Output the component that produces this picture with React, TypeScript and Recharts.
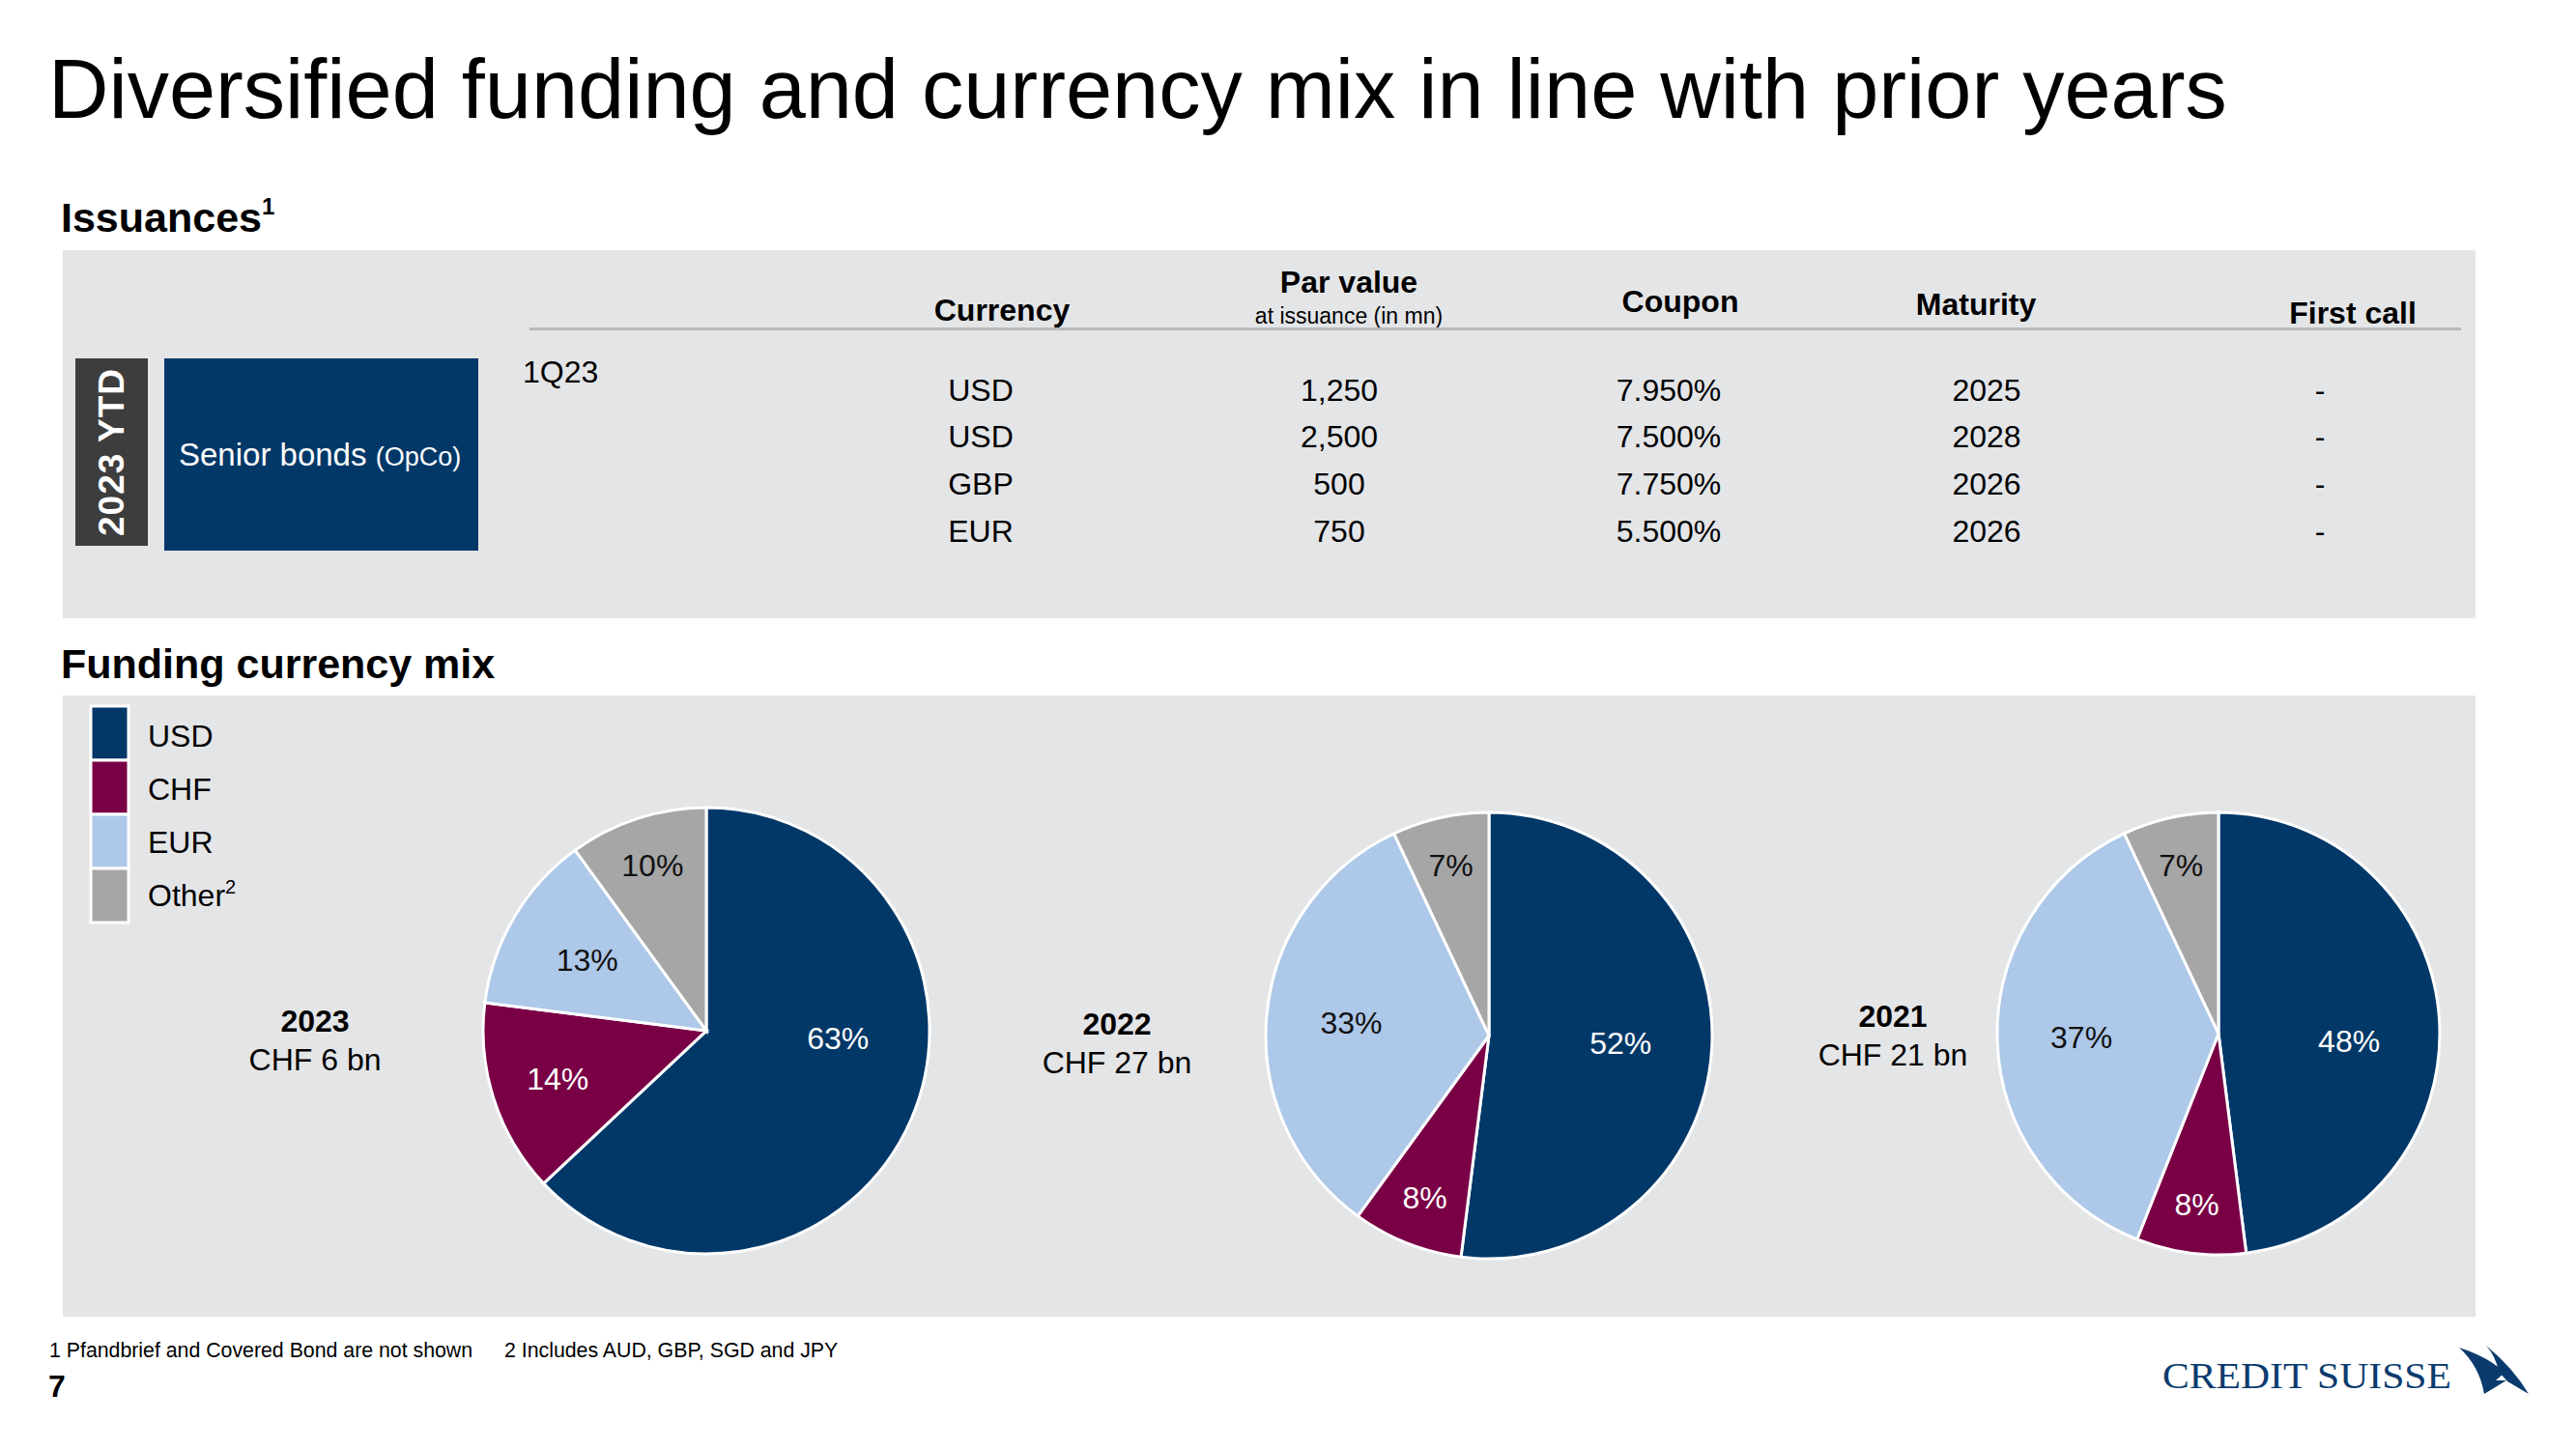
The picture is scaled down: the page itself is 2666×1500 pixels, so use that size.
import React from "react";
import { PieChart, Pie, Cell } from "recharts";

// funding currency mix, % share
const currencies = ["USD", "CHF", "EUR", "Other"];
const mix2023 = [63, 14, 13, 10];
const mix2022 = [52, 8, 33, 7];
const mix2021 = [48, 8, 37, 7];
const years = ["2023", "2022", "2021"];
const totals = ["CHF 6 bn", "CHF 27 bn", "CHF 21 bn"];

// 2023 YTD issuances
const issueCurrency = ["USD", "USD", "GBP", "EUR"];
const parValue = ["1,250", "2,500", "500", "750"];
const coupon = ["7.950%", "7.500%", "7.750%", "5.500%"];
const maturity = ["2025", "2028", "2026", "2026"];
const firstCall = ["-", "-", "-", "-"];

const COLORS = ["#023868", "#7a0046", "#adc8e8", "#a6a6a6"];
const LABEL_COLORS = ["#ffffff", "#ffffff", "#111111", "#111111"];
const PANEL = "#e4e5e7";
const FONT = "'Liberation Sans', Arial, sans-serif";

const toRows = (vals: number[]) => currencies.map((name, i) => ({ name, value: vals[i] }));

const pies = [
  { data: toRows(mix2023), cx: 666, cy: 347, r: 231, labelX: 326, labelY: 1068 },
  { data: toRows(mix2022), cx: 1476, cy: 352, r: 231, labelX: 1156, labelY: 1071 },
  { data: toRows(mix2021), cx: 2231, cy: 350, r: 229, labelX: 1959, labelY: 1063 },
];

const RAD = Math.PI / 180;
const renderLabel = (props: any) => {
  const { cx, cy, midAngle, outerRadius, value, index } = props;
  // biggest (USD) label sits on the horizontal, small slices pushed outwards
  const angle = index === 0 ? 0 : midAngle;
  const ratio = index === 0 ? 0.59 : value < 12 ? 0.78 : index === 1 ? 0.7 : 0.62;
  const x = cx + outerRadius * ratio * Math.cos(-angle * RAD);
  const y = cy + outerRadius * ratio * Math.sin(-angle * RAD) + (index === 0 ? 8 : 0);
  return (
    <text x={x} y={y} textAnchor="middle" dominantBaseline="central" fill={LABEL_COLORS[index]} fontSize={32} fontFamily={FONT}>
      {value}%
    </text>
  );
};

const colX = { currency: 1015, par: 1386, coupon: 1727, maturity: 2056, call: 2401 };
const rowY = [415, 463, 512, 561];

export default function App() {
  return (
    <div style={{ position: "absolute", left: 0, top: 0, width: 2666, height: 1500, background: "#fff", fontFamily: FONT }}>
      <svg width={2666} height={1500} style={{ position: "absolute", left: 0, top: 0 }} fontFamily={FONT}>
        <text x={50} y={122} fontSize={86.5} fill="#000">
          Diversified funding and currency mix in line with prior years
        </text>

        {/* Issuances */}
        <text x={63} y={240} fontSize={43} fontWeight="bold" fill="#000">
          Issuances<tspan fontSize={24} dy={-18}>1</tspan>
        </text>
        <rect x={65} y={259} width={2497} height={381} fill={PANEL} />
        <rect x={78} y={371} width={75} height={194} fill="#3d3d3d" />
        <text
          x={115}
          y={468}
          transform="rotate(-90 115 468)"
          textAnchor="middle"
          dominantBaseline="central"
          fontSize={37}
          fontWeight="bold"
          fill="#fff"
          letterSpacing={1}
        >
          2023 YTD
        </text>
        <rect x={170} y={371} width={325} height={199} fill="#023868" />
        <text x={185} y={482} fontSize={33} fill="#fff">
          Senior bonds <tspan fontSize={27}>(OpCo)</tspan>
        </text>

        <text x={1037} y={332} textAnchor="middle" fontSize={32} fontWeight="bold">Currency</text>
        <text x={1396} y={303} textAnchor="middle" fontSize={32} fontWeight="bold">Par value</text>
        <text x={1396} y={335} textAnchor="middle" fontSize={23}>at issuance (in mn)</text>
        <text x={1739} y={323} textAnchor="middle" fontSize={32} fontWeight="bold">Coupon</text>
        <text x={2045} y={326} textAnchor="middle" fontSize={32} fontWeight="bold">Maturity</text>
        <text x={2435} y={335} textAnchor="middle" fontSize={32} fontWeight="bold">First call</text>
        <rect x={548} y={339} width={1999} height={3} fill="#b9babc" />
        <text x={541} y={396} fontSize={32}>1Q23</text>
        {rowY.map((y, i) => (
          <g key={i} fontSize={32} textAnchor="middle" fill="#000">
            <text x={colX.currency} y={y}>{issueCurrency[i]}</text>
            <text x={colX.par} y={y}>{parValue[i]}</text>
            <text x={colX.coupon} y={y}>{coupon[i]}</text>
            <text x={colX.maturity} y={y}>{maturity[i]}</text>
            <text x={colX.call} y={y}>{firstCall[i]}</text>
          </g>
        ))}

        {/* Funding currency mix */}
        <text x={63} y={702} fontSize={43} fontWeight="bold" fill="#000">Funding currency mix</text>
        <rect x={65} y={720} width={2497} height={643} fill={PANEL} />
        {currencies.map((c, i) => (
          <g key={c}>
            <rect x={94} y={731 + i * 56} width={39} height={56} fill={COLORS[i]} stroke="#fff" strokeWidth={3} />
            <text x={153} y={773 + i * 55} fontSize={32} fill="#000">
              {c}
              {c === "Other" ? <tspan fontSize={20} dy={-13}>2</tspan> : null}
            </text>
          </g>
        ))}
        {pies.map((p, i) => (
          <g key={years[i]} textAnchor="middle" fontSize={32} fill="#000">
            <text x={p.labelX} y={p.labelY} fontWeight="bold">{years[i]}</text>
            <text x={p.labelX} y={p.labelY + 40}>{totals[i]}</text>
          </g>
        ))}

        {/* footer */}
        <text x={51} y={1405} fontSize={21.3} fill="#000">1 Pfandbrief and Covered Bond are not shown</text>
        <text x={522} y={1405} fontSize={21.3} fill="#000">2 Includes AUD, GBP, SGD and JPY</text>
        <text x={50} y={1446} fontSize={32} fontWeight="bold" fill="#000">7</text>
        <text
          x={2238}
          y={1437}
          fontSize={38}
          fill="#0b3b6e"
          fontFamily="'Liberation Serif', serif"
          textLength={299}
          lengthAdjust="spacingAndGlyphs"
        >
          CREDIT SUISSE
        </text>
        <path d="M2545 1395 Q2576 1405 2592 1421 L2583 1429 L2594 1429 L2571 1443 Q2566 1414 2545 1395 Z" fill="#0b3b6e" />
        <path d="M2573 1393 Q2601 1416 2617 1443 L2595 1430 L2586 1420 Q2583 1404 2573 1393 Z" fill="#0b3b6e" />
      </svg>

      <div style={{ position: "absolute", left: 65, top: 720 }}>
        <PieChart width={2497} height={643} margin={{ top: 0, right: 0, bottom: 0, left: 0 }}>
          {pies.map((p, i) => (
            <Pie
              key={years[i]}
              data={p.data}
              dataKey="value"
              nameKey="name"
              cx={p.cx}
              cy={p.cy}
              outerRadius={p.r}
              startAngle={90}
              endAngle={-270}
              stroke="#ffffff"
              strokeWidth={3}
              label={renderLabel}
              labelLine={false}
              isAnimationActive={false}
            >
              {p.data.map((d, j) => (
                <Cell key={d.name} fill={COLORS[j]} />
              ))}
            </Pie>
          ))}
        </PieChart>
      </div>
    </div>
  );
}
